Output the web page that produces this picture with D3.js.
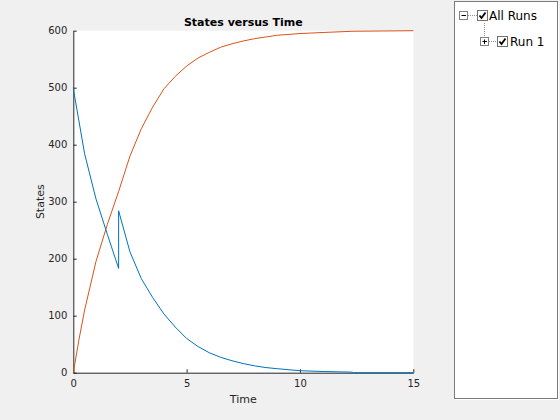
<!DOCTYPE html>
<html><head><meta charset="utf-8">
<script src="https://cdn.jsdelivr.net/npm/d3@7"></script>
<style>body{margin:0;background:#f0f0f0;}svg{display:block;}</style>
</head><body><svg id="c" width="560" height="420"></svg>
<script>
// Series 1 (blue)
const time1 = [0, 0.05, 0.5, 1.0, 1.5, 2.0, 2.0, 2.5, 3.0, 3.5, 4.0, 4.5, 5.0, 5.5, 6.0, 6.5, 7.0, 7.5, 8.0, 8.5, 9.0, 10.0, 11.1, 12.3, 12.35, 15];
const state1 = [500, 487, 384, 305, 243, 183, 284, 212, 165, 132, 103, 80, 60, 46, 35, 27, 21, 16, 12, 9, 7, 3.5, 2, 1, 0, 0];
// Series 2 (orange)
const time2 = [0, 0.25, 0.5, 1.0, 1.5, 2.0, 2.5, 3.0, 3.5, 4.0, 4.5, 5.0, 5.5, 6.0, 6.5, 7.0, 7.5, 8.0, 8.5, 9.0, 10.0, 11.1, 12.3, 15];
const state2 = [0, 58, 110, 195, 260, 318, 380, 428, 466, 498, 520, 538, 552, 562, 571, 577, 582, 586, 589, 592, 595, 597, 599, 600];
const xTicks = [0, 5, 10, 15];
const yTicks = [0, 100, 200, 300, 400, 500, 600];
const titleText = "States versus Time";
const xLabel = "Time";
const yLabel = "States";
const treeItems = ["All Runs", "Run 1"];

const svg = d3.select("#c");
const L = 73.3, R = 413.3, T = 30.7, B = 372.7;
const x = d3.scaleLinear().domain([0, 15]).range([L, R]);
const y = d3.scaleLinear().domain([0, 600]).range([B, T]);
const font = "DejaVu Sans, sans-serif";
const axCol = "#262626";

svg.append("rect").attr("x", L).attr("y", T).attr("width", R - L).attr("height", B - T).attr("fill", "#fff");

const ax = svg.append("g").attr("transform", `translate(0,${B})`)
  .call(d3.axisBottom(x).tickValues(xTicks).tickSizeInner(-3.4).tickSizeOuter(0).tickPadding(7).tickFormat(d3.format("d")));
const ay = svg.append("g").attr("transform", `translate(${L},0)`)
  .call(d3.axisLeft(y).tickValues(yTicks).tickSizeInner(-3.4).tickSizeOuter(0).tickPadding(6).tickFormat(d3.format("d")));
[ax, ay].forEach(g => {
  g.selectAll("path.domain").attr("stroke", axCol).attr("stroke-width", 1);
  g.selectAll(".tick line").attr("stroke", axCol);
  g.selectAll("text").attr("fill", axCol).style("font-family", font).style("font-size", "10px");
});

const line = d3.line().x(d => x(d[0])).y(d => y(d[1]));
svg.append("path").datum(time2.map((t, i) => [t, state2[i]])).attr("d", line)
  .attr("fill", "none").attr("stroke", "#D95319").attr("stroke-width", 1);
svg.append("path").datum(time1.map((t, i) => [t, state1[i]])).attr("d", line)
  .attr("fill", "none").attr("stroke", "#0072BD").attr("stroke-width", 1);

svg.append("text").attr("x", (L + R) / 2).attr("y", 26).attr("text-anchor", "middle")
  .style("font-family", font).style("font-size", "11px").style("font-weight", "bold").attr("fill", "#000").text(titleText);
svg.append("text").attr("x", (L + R) / 2).attr("y", 403).attr("text-anchor", "middle")
  .style("font-family", font).style("font-size", "11px").attr("fill", axCol).text(xLabel);
svg.append("text").attr("transform", `translate(43.5,${(T + B) / 2}) rotate(-90)`).attr("text-anchor", "middle")
  .style("font-family", font).style("font-size", "11px").attr("fill", axCol).text(yLabel);

// Legend tree panel
const lg = svg.append("g");
lg.append("rect").attr("x", 455.5).attr("y", 2.5).attr("width", 103).attr("height", 397).attr("fill", "none").attr("stroke", "#fff");
lg.append("rect").attr("x", 454.5).attr("y", 1.5).attr("width", 103).attr("height", 397).attr("fill", "#fff").attr("stroke", "#7a7a7a");

function box(bx, by, plus) {
  lg.append("rect").attr("x", bx + 0.5).attr("y", by + 0.5).attr("width", 8).attr("height", 8).attr("fill", "#fff").attr("stroke", "#808080");
  lg.append("line").attr("x1", bx + 2.5).attr("x2", bx + 7).attr("y1", by + 4.5).attr("y2", by + 4.5).attr("stroke", "#000");
  if (plus) lg.append("line").attr("x1", bx + 4.5).attr("x2", bx + 4.5).attr("y1", by + 2.5).attr("y2", by + 7).attr("stroke", "#000");
}
function check(cx, cy) {
  lg.append("rect").attr("x", cx + 0.5).attr("y", cy + 0.5).attr("width", 10).attr("height", 10).attr("fill", "#fff").attr("stroke", "#707070");
  lg.append("path").attr("d", `M${cx + 2.5},${cy + 5.5}L${cx + 4.5},${cy + 8}L${cx + 8.5},${cy + 2.5}`).attr("fill", "none").attr("stroke", "#000").attr("stroke-width", 1.8);
}
function dots(x1, y1, x2, y2) {
  lg.append("line").attr("x1", x1).attr("y1", y1).attr("x2", x2).attr("y2", y2).attr("stroke", "#909090").attr("stroke-dasharray", "1,1");
}
box(459, 11, false);
dots(468, 15.5, 477, 15.5);
check(477, 10);
lg.append("text").attr("x", 489).attr("y", 20).style("font-family", font).style("font-size", "12px").attr("fill", "#000").text(treeItems[0]);
dots(484.5, 23, 484.5, 37);
box(480, 37, true);
dots(489, 41.5, 497, 41.5);
check(497, 36);
lg.append("text").attr("x", 510).attr("y", 46).style("font-family", font).style("font-size", "12px").attr("fill", "#000").text(treeItems[1]);
</script>
</body></html>
